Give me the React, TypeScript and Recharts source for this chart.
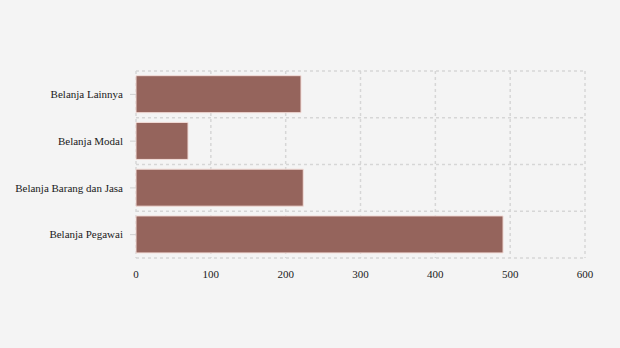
import { BarChart, Bar, XAxis, YAxis, CartesianGrid } from 'recharts'

const categories = ['Belanja Lainnya', 'Belanja Modal', 'Belanja Barang dan Jasa', 'Belanja Pegawai']
const values = [220.5, 69.5, 223.5, 490.5]
const xTicks = [0, 100, 200, 300, 400, 500, 600]

const data = categories.map((name, i) => ({ name, value: values[i] }))

const font = "'Liberation Serif', 'Times New Roman', serif"

function YTick({ x, y, payload }: any) {
  return (
    <text x={x} y={y} dy="0.35em" textAnchor="end" style={{ fontFamily: font, fontSize: 11 }} fill="#1a1a1a">
      {payload.value}
    </text>
  )
}

function XTick({ x, y, payload }: any) {
  return (
    <text x={x} y={y} dy="0.71em" textAnchor="middle" style={{ fontFamily: font, fontSize: 11 }} fill="#1a1a1a">
      {payload.value}
    </text>
  )
}

export default function App() {
  return (
    <div
      style={{
        position: 'fixed',
        top: 0,
        left: 0,
        width: 620,
        height: 348,
        background: '#f4f4f4',
        fontFamily: font,
      }}
    >
      <BarChart
        width={620}
        height={348}
        data={data}
        layout="vertical"
        margin={{ top: 71, right: 35, left: 0, bottom: 60 }}
        barCategoryGap="10%"
      >
        <CartesianGrid
          stroke="#d6d6d6"
          strokeWidth={1.5}
          strokeDasharray="3 3"
          horizontalCoordinatesGenerator={({ offset }: any) =>
            Array.from(
              { length: categories.length + 1 },
              (_, i) => offset.top + (offset.height * i) / categories.length,
            )
          }
        />
        <XAxis
          type="number"
          domain={[0, 600]}
          ticks={xTicks}
          height={30}
          axisLine={false}
          tickLine={false}
          tickMargin={6}
          tick={<XTick />}
        />
        <YAxis
          type="category"
          dataKey="name"
          width={136}
          axisLine={false}
          tickLine={{ stroke: '#d0d0d0' }}
          tickSize={6}
          tickMargin={7}
          tick={<YTick />}
        />
        <Bar
          dataKey="value"
          fill="#95645c"
          stroke="#f2dcd8"
          strokeWidth={1}
          isAnimationActive={false}
        />
      </BarChart>
    </div>
  )
}
